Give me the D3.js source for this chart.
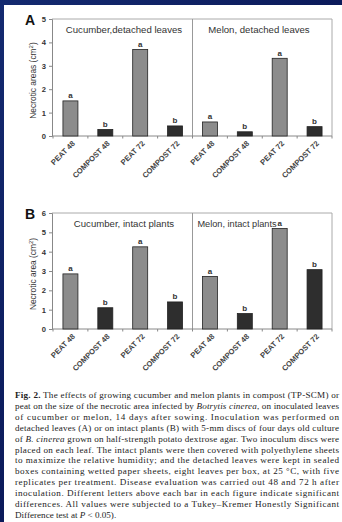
<!DOCTYPE html>
<html>
<head>
<meta charset="utf-8">
<script src="https://cdn.jsdelivr.net/npm/d3@7"></script>
<style>
  html, body { margin: 0; padding: 0; background: #0c1c5e; }
  svg { display: block; }
</style>
</head>
<body>
<div id="chart"></div>
<script>
// categories on the x axis (same for both panels)
const categories = ['PEAT 48', 'COMPOST 48', 'PEAT 72', 'COMPOST 72',
                    'PEAT 48 ', 'COMPOST 48 ', 'PEAT 72 ', 'COMPOST 72 '];

// panel A - detached leaves
const valuesA = [1.5, 0.28, 3.7, 0.43, 0.6, 0.18, 3.32, 0.4];
const lettersA = ['a', 'b', 'a', 'b', 'a', 'b', 'a', 'b'];
const titlesA = ['Cucumber,detached leaves', 'Melon, detached leaves'];
const ticksA = [0, 1, 2, 3, 4, 5];

// panel B - intact plants
const valuesB = [2.85, 1.1, 4.25, 1.4, 2.72, 0.8, 5.2, 3.07];
const lettersB = ['a', 'b', 'a', 'b', 'a', 'b', 'a', 'b'];
const titlesB = ['Cucumber, intact plants', 'Melon, intact plants'];
const ticksB = [0, 1, 2, 3, 4, 5, 6];

const captionLines = [
  [['b', 'Fig. 2.'], ['', ' The effects of growing cucumber and melon plants in compost (TP-SCM) or']],
  [['', 'peat on the size of the necrotic area infected by '], ['i', 'Botrytis cinerea'], ['', ', on inoculated leaves']],
  [['', 'of cucumber or melon, 14 days after sowing. Inoculation was performed on']],
  [['', 'detached leaves (A) or on intact plants (B) with 5-mm discs of four days old culture']],
  [['', 'of '], ['i', 'B. cinerea'], ['', ' grown on half-strength potato dextrose agar. Two inoculum discs were']],
  [['', 'placed on each leaf. The intact plants were then covered with polyethylene sheets']],
  [['', 'to maximize the relative humidity; and the detached leaves were kept in sealed']],
  [['', 'boxes containing wetted paper sheets, eight leaves per box, at 25 \u00b0C, with five']],
  [['', 'replicates per treatment. Disease evaluation was carried out 48 and 72 h after']],
  [['', 'inoculation. Different letters above each bar in each figure indicate significant']],
  [['', 'differences. All values were subjected to a Tukey\u2013Kremer Honestly Significant']],
  [['', 'Difference test at '], ['i', 'P'], ['', ' < 0.05).']]
];

const width = 342, height = 522;
const svg = d3.select('#chart').append('svg')
  .attr('width', width).attr('height', height);

// dark slide background
const defs = svg.append('defs');
const grad = defs.append('linearGradient').attr('id', 'bg')
  .attr('x1', 0).attr('y1', 0).attr('x2', 1).attr('y2', 1);
grad.append('stop').attr('offset', '0%').attr('stop-color', '#142a70');
grad.append('stop').attr('offset', '50%').attr('stop-color', '#0b1a5a');
grad.append('stop').attr('offset', '100%').attr('stop-color', '#0a1650');
svg.append('rect').attr('width', width).attr('height', height).attr('fill', 'url(#bg)');

// white page
svg.append('rect').attr('x', 4).attr('y', 5).attr('width', width - 4).attr('height', height - 5)
  .attr('fill', '#ffffff');

const font = 'Liberation Sans, Arial, sans-serif';
const x = d3.scaleBand().domain(categories).range([53, 332]).paddingInner(0.57).paddingOuter(0.285);

function drawPanel(cfg) {
  const g = svg.append('g');
  const y = d3.scaleLinear().domain([0, cfg.max]).range([cfg.bottom, cfg.top]);
  const x0 = x.range()[0], x1 = x.range()[1];
  const mid = x(categories[4]) - x.step() * x.paddingInner() / 2;

  // frame
  g.append('path')
    .attr('d', `M${x0 - 1},${y(cfg.max)}H${x1}V${y(0)}`)
    .attr('fill', 'none').attr('stroke', '#aaa').attr('stroke-width', 1);
  g.append('line').attr('x1', mid).attr('x2', mid).attr('y1', y(cfg.max)).attr('y2', y(0))
    .attr('stroke', '#999').attr('stroke-width', 1);

  // y axis
  const yAxis = g.append('g').attr('transform', `translate(${x0 - 1},0)`)
    .call(d3.axisLeft(y).tickValues(cfg.ticks).tickSize(3).tickPadding(3).tickFormat(d3.format('d')));
  yAxis.select('.domain').attr('stroke', '#888');
  yAxis.selectAll('.tick line').attr('stroke', '#888');
  yAxis.selectAll('text').attr('font-family', font).attr('font-size', 7.6).attr('font-weight', 'bold')
    .attr('fill', '#333');

  // x axis with boundary ticks
  const bounds = d3.range(categories.length + 1).map(i => x0 + i * x.step());
  g.append('line').attr('x1', x0 - 1).attr('x2', x1).attr('y1', y(0)).attr('y2', y(0))
    .attr('stroke', '#888');
  g.selectAll('.btick').data(bounds).join('line')
    .attr('x1', d => d).attr('x2', d => d).attr('y1', y(0)).attr('y2', y(0) + 2.5)
    .attr('stroke', '#888');

  // bars
  g.selectAll('.bar').data(cfg.values).join('rect')
    .attr('x', (d, i) => x(categories[i]))
    .attr('y', d => y(d))
    .attr('width', x.bandwidth())
    .attr('height', d => y(0) - y(d))
    .attr('fill', (d, i) => i % 2 === 0 ? '#8c8c8c' : '#2e2e2e')
    .attr('stroke', '#222').attr('stroke-width', 0.8);

  // significance letters
  g.selectAll('.let').data(cfg.values).join('text')
    .attr('x', (d, i) => x(categories[i]) + x.bandwidth() / 2)
    .attr('y', d => y(d) - 2.5)
    .attr('text-anchor', 'middle')
    .attr('font-family', font).attr('font-size', 8).attr('font-weight', 'bold').attr('fill', '#333')
    .text((d, i) => cfg.letters[i]);

  // rotated category labels
  g.selectAll('.xl').data(categories).join('text')
    .attr('transform', d => `translate(${x(d) + x.bandwidth() / 2 + 5},${y(0) + 8}) rotate(-45)`)
    .attr('text-anchor', 'end')
    .attr('font-family', font).attr('font-size', 7.6).attr('font-weight', 'bold').attr('fill', '#444')
    .text(d => d.trim());

  // sub titles
  g.selectAll('.tt').data(cfg.titles).join('text')
    .attr('x', (d, i) => cfg.titleX[i])
    .attr('y', cfg.titleY)
    .attr('text-anchor', 'middle')
    .attr('font-family', font).attr('font-size', (d, i) => cfg.titleSize[i]).attr('fill', '#333')
    .text(d => d);

  // panel letter
  g.append('text').attr('x', 25).attr('y', cfg.letterY)
    .attr('font-family', font).attr('font-size', 14).attr('font-weight', 'bold').attr('fill', '#111')
    .text(cfg.letter);

  // y axis title
  const yt = g.append('text')
    .attr('transform', `translate(${cfg.yTitleX},${(cfg.top + cfg.bottom) / 2 + 3}) rotate(-90)`)
    .attr('text-anchor', 'middle')
    .attr('font-family', font).attr('font-size', 8.4).attr('fill', '#333');
  yt.append('tspan').text(cfg.yTitle + ' (cm');
  yt.append('tspan').attr('baseline-shift', 'super').attr('font-size', 6).text('2');
  yt.append('tspan').text(')');
}

drawPanel({
  values: valuesA, letters: lettersA, titles: titlesA, ticks: ticksA,
  max: 5, top: 19, bottom: 136, titleY: 33, titleX: [124, 259], titleSize: [9.6, 9.6],
  letterY: 25, letter: 'A', yTitle: 'Necrotic areas', yTitleX: 36
});
drawPanel({
  values: valuesB, letters: lettersB, titles: titlesB, ticks: ticksB,
  max: 6, top: 213, bottom: 329, titleY: 227, titleX: [124, 237], titleSize: [9.6, 9.2],
  letterY: 219, letter: 'B', yTitle: 'Necrotic area', yTitleX: 36
});

// caption, justified line by line
const cap = svg.append('g');
const capLeft = 15, capRight = 339, capTop = 398, lineH = 10.9;
captionLines.forEach((parts, i) => {
  const last = i === captionLines.length - 1;
  const t = cap.append('text')
    .attr('x', capLeft).attr('y', capTop + i * lineH)
    .attr('font-family', 'Liberation Serif, DejaVu Serif, serif').attr('font-size', 9.1)
    .attr('fill', '#222');
  parts.forEach(([style, txt]) => {
    const ts = t.append('tspan').text(txt);
    if (style === 'b') ts.attr('font-weight', 'bold');
    if (style === 'i') ts.attr('font-style', 'italic');
  });
  if (!last) {
    const natural = t.node().getComputedTextLength();
    t.attr('textLength', capRight - capLeft)
      .attr('lengthAdjust', natural > capRight - capLeft ? 'spacingAndGlyphs' : 'spacing');
  }
});
</script>
</body>
</html>
